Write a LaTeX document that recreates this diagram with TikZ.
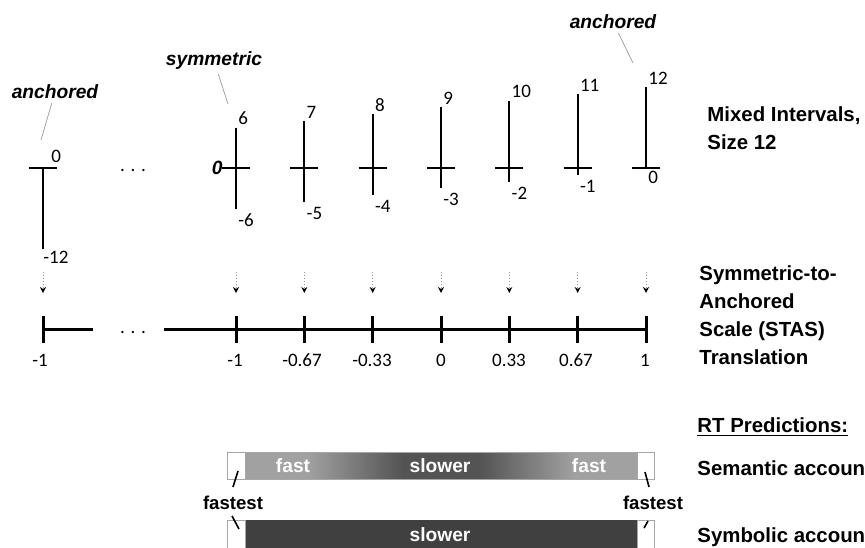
\documentclass[tikz,border=0pt]{standalone}
\usepackage{xcolor}
\usepackage{fontspec}
\setmainfont{Liberation Sans}
\newfontfamily\numfont{Carlito}
\usepackage{tikz}
\usetikzlibrary{positioning,arrows.meta}
\definecolor{barlight}{gray}{0.63}
\definecolor{bardark}{gray}{0.33}
\definecolor{bardeep}{gray}{0.25}
\pgfdeclarehorizontalshading{rtshade}{100bp}{color(0bp)=(barlight); color(25bp)=(barlight); color(33bp)=(barlight); color(45bp)=(bardark); color(55bp)=(bardark); color(67bp)=(barlight); color(75bp)=(barlight); color(100bp)=(barlight)}

\begin{document}
\begin{tikzpicture}[x=0.5pt,y=-0.5pt,
		ivl/.style={line width=1pt},
		num/.style={font=\numfont\fontsize{9.5}{10}\selectfont, inner sep=0.5pt},
		kind/.style={font=\bfseries\itshape\fontsize{9.6}{11}\selectfont, inner sep=0pt},
		lead/.style={gray!80, line width=0.35pt},
		flow/.style={densely dotted, gray!80, line width=0.5pt, -{Stealth[black, length=3pt, width=3pt]}},
		scl/.style={line width=1.5pt},
		head/.style={font=\bfseries\fontsize{10.2}{14}\selectfont, align=left, anchor=north west, inner sep=0pt},
		bartext/.style={font=\bfseries\fontsize{9.6}{11}\selectfont, text=white},
		endbox/.style={draw=gray!70, fill=white, line width=0.4pt},
		fastlead/.style={line width=0.8pt}]
		\useasboundingbox (0,0) rectangle (865,547);
		\clip (0,0) rectangle (865,547);

		\node[kind] (anc1) at (55,92) {anchored};
		\node[kind] (sym) at (214,61) {symmetric};
		\node[kind] (anc2) at (613,22) {anchored};
		\coordinate (anc1p) at (41,140);
		\coordinate (symp) at (228,104);
		\coordinate (anc2p) at (633,63);
		\draw[lead, shorten <=2pt] (anc1) -- (anc1p);
		\draw[lead, shorten <=2pt] (sym) -- (symp);
		\draw[lead, shorten <=2pt] (anc2) -- (anc2p);

		\draw[ivl] (29,168) -- (57,168);
		\draw[ivl] (43,168) -- (43,249);
		\node[num, anchor=south west] (lo0) at (50,164) {0};
		\node[num, anchor=north west] (lo1) at (42,250) {-12};

		\node[font=\numfont\fontsize{9.5}{10}\selectfont, anchor=base] (dots1) at (133,171) {. . .};

		\node[kind, anchor=east] (zero) at (223,168) {0};
		\draw[ivl] (222,168) -- (250,168);
		\draw[ivl] (236,127.5) -- (236,208.5);
		\node[num, anchor=south west] (s6) at (237,126.5) {6};
		\node[num, anchor=north west] (s6b) at (237,212.5) {-6};

		\draw[ivl] (290.3,168) -- (318.3,168);
		\draw[ivl] (304.3,120.75) -- (304.3,201.75);
		\node[num, anchor=south west] (s7) at (305.3,119.75) {7};
		\node[num, anchor=north west] (s7b) at (305.3,205.75) {-5};

		\draw[ivl] (358.7,168) -- (386.7,168);
		\draw[ivl] (372.7,114) -- (372.7,195);
		\node[num, anchor=south west] (s8) at (373.7,113) {8};
		\node[num, anchor=north west] (s8b) at (373.7,199) {-4};

		\draw[ivl] (427,168) -- (455,168);
		\draw[ivl] (441,107.25) -- (441,188.25);
		\node[num, anchor=south west] (s9) at (442,106.25) {9};
		\node[num, anchor=north west] (s9b) at (442,192.25) {-3};

		\draw[ivl] (495.3,168) -- (523.3,168);
		\draw[ivl] (509.3,100.5) -- (509.3,181.5);
		\node[num, anchor=south west] (s10) at (510.3,99.5) {10};
		\node[num, anchor=north west] (s10b) at (510.3,185.5) {-2};

		\draw[ivl] (563.7,168) -- (591.7,168);
		\draw[ivl] (577.7,93.75) -- (577.7,174.75);
		\node[num, anchor=south west] (s11) at (578.7,92.75) {11};
		\node[num, anchor=north west] (s11b) at (578.7,178.75) {-1};

		\draw[ivl] (632,168) -- (660,168);
		\draw[ivl] (646,87) -- (646,168);
		\node[num, anchor=south west] (s12) at (647,86) {12};
		\node[num, anchor=north west] (s12b) at (647,170) {0};

		\node[head] (mixed) at (707,106) {Mixed Intervals,\\Size 12};

		\coordinate (u0) at (43,272);   \coordinate (d0) at (43,293);
		\coordinate (u1) at (236,272);  \coordinate (d1) at (236,293);
		\coordinate (u2) at (304.3,272);\coordinate (d2) at (304.3,293);
		\coordinate (u3) at (372.7,272);\coordinate (d3) at (372.7,293);
		\coordinate (u4) at (441,272);  \coordinate (d4) at (441,293);
		\coordinate (u5) at (509.3,272);\coordinate (d5) at (509.3,293);
		\coordinate (u6) at (577.7,272);\coordinate (d6) at (577.7,293);
		\coordinate (u7) at (646,272);  \coordinate (d7) at (646,293);
		\draw[flow] (u0) -- (d0);
		\draw[flow] (u1) -- (d1);
		\draw[flow] (u2) -- (d2);
		\draw[flow] (u3) -- (d3);
		\draw[flow] (u4) -- (d4);
		\draw[flow] (u5) -- (d5);
		\draw[flow] (u6) -- (d6);
		\draw[flow] (u7) -- (d7);

		\draw[scl] (43,329) -- (93,329);
		\node[font=\numfont\fontsize{9.5}{10}\selectfont, anchor=base] (dots2) at (133,333) {. . .};
		\draw[scl] (164,329) -- (646,329);
		\draw[scl] (43,316) -- (43,343);
		\draw[scl] (236,316) -- (236,343);
		\draw[scl] (304.3,316) -- (304.3,343);
		\draw[scl] (372.7,316) -- (372.7,343);
		\draw[scl] (441,316) -- (441,343);
		\draw[scl] (509.3,316) -- (509.3,343);
		\draw[scl] (577.7,316) -- (577.7,343);
		\draw[scl] (646,316) -- (646,343);
		\node[num] (t0) at (40,360) {-1};
		\node[num] (t1) at (235,360) {-1};
		\node[num] (t2) at (302,360) {-0.67};
		\node[num] (t3) at (372,360) {-0.33};
		\node[num] (t4) at (441,360) {0};
		\node[num] (t5) at (509,360) {0.33};
		\node[num] (t6) at (576,360) {0.67};
		\node[num] (t7) at (645,360) {1};

		\node[head] (stas) at (699,265) {Symmetric-to-\\Anchored\\Scale (STAS)\\Translation};

		\node[head] (rt) at (697,417) {\underline{RT Predictions:}};
		\node[head, anchor=west] (sem) at (697,468) {Semantic account};
		\node[head, anchor=west] (symb) at (697,537) {Symbolic account};

		\shade[shading=rtshade] (245,452) rectangle (637,479);
		\draw[endbox] (227,452) rectangle (245,479);
		\draw[endbox] (637,452) rectangle (654,479);
		\draw[gray!70, line width=0.4pt] (227,452) rectangle (654,479);
		\node[bartext] (fast1) at (293,466) {fast};
		\node[bartext] (slow1) at (440,466) {slower};
		\node[bartext] (fast2) at (589,466) {fast};

		\fill[bardeep] (245,520) rectangle (637,560);
		\draw[endbox] (227,520) rectangle (245,560);
		\draw[endbox] (637,520) rectangle (654,560);
		\node[bartext] (slow2) at (440,535) {slower};

		\node[font=\bfseries\fontsize{9.3}{10}\selectfont] (fst1) at (233,503) {fastest};
		\node[font=\bfseries\fontsize{9.3}{10}\selectfont] (fst2) at (653,503) {fastest};
		\coordinate (la) at (238,471); \coordinate (lb) at (233,487);
		\coordinate (lc) at (232,516); \coordinate (ld) at (239,529);
		\coordinate (ra) at (645,472); \coordinate (rb) at (649,487);
		\coordinate (rc) at (648,521); \coordinate (rd) at (644,528);
		\draw[fastlead] (la) -- (lb);
		\draw[fastlead] (lc) -- (ld);
		\draw[fastlead] (ra) -- (rb);
		\draw[fastlead] (rc) -- (rd);
	\end{tikzpicture}
\end{document}
